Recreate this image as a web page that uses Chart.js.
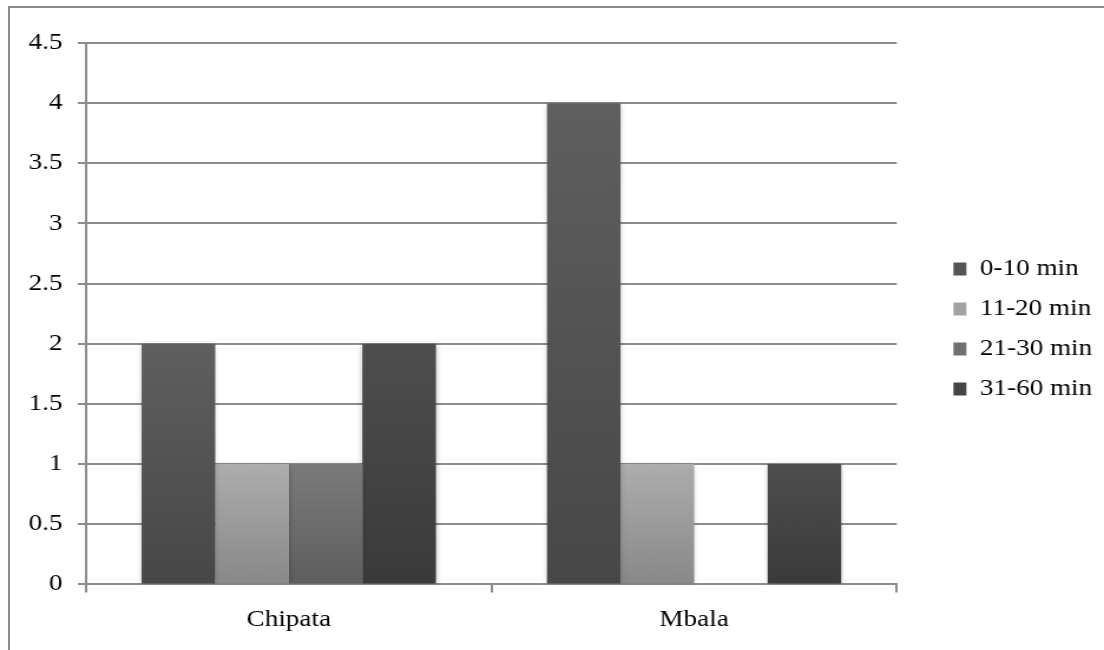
<!DOCTYPE html>
<html>
<head>
<meta charset="utf-8">
<script src="https://cdn.jsdelivr.net/npm/chart.js@4"></script>
<style>
  html, body { margin: 0; padding: 0; background: #fff; overflow: hidden; }
  #frame {
    position: absolute; left: 8px; top: 6px; width: 1200px; height: 700px;
    border-left: 2px solid #8c8c8c; border-top: 2px solid #8c8c8c;
  }
  #wrap {
    position: absolute; left: 0; top: 0; width: 936px; height: 650px;
    transform: scaleX(1.1795); transform-origin: 0 0;
  }
</style>
</head>
<body>
<div id="frame"></div>
<div id="wrap"><canvas id="c" width="936" height="650"></canvas></div>
<script>
// Travel time to the clinic, by town
const categories = ['Chipata', 'Mbala'];
const seriesNames = ['0-10 min', '11-20 min', '21-30 min', '31-60 min'];
const minutes0to10 = [2, 4];
const minutes11to20 = [1, 1];
const minutes21to30 = [1, 0];
const minutes31to60 = [2, 1];
const yTickLabels = ['0', '0.5', '1', '1.5', '2', '2.5', '3', '3.5', '4', '4.5'];

const FONT = { family: "'Liberation Serif', 'Times New Roman', serif", size: 23 };
const LINE = '#8c8c8c';

// vertical shading inside each bar, lighter at the top
function barFill(top, bottom) {
  return (ctx) => {
    const chart = ctx.chart;
    const y = chart.scales && chart.scales.y;
    if (!y || ctx.type !== 'data' || typeof ctx.raw !== 'number') return bottom;
    const yTop = y.getPixelForValue(ctx.raw);
    const yBase = y.getPixelForValue(0);
    if (!isFinite(yTop) || !isFinite(yBase) || yBase - yTop < 1) return bottom;
    const g = chart.ctx.createLinearGradient(0, yTop, 0, yBase);
    g.addColorStop(0, top);
    g.addColorStop(1, bottom);
    return g;
  };
}

const swatches = ['#555555', '#a2a2a2', '#707070', '#444444'];

const softShadow = {
  id: 'softShadow',
  beforeDatasetsDraw(chart) {
    const c = chart.ctx;
    c.save();
    c.shadowColor = 'rgba(0,0,0,0.28)';
    c.shadowBlur = 5;
    c.shadowOffsetX = 0;
    c.shadowOffsetY = 1;
  },
  afterDatasetsDraw(chart) {
    chart.ctx.restore();
  }
};

new Chart(document.getElementById('c'), {
  type: 'bar',
  data: {
    labels: categories,
    datasets: [
      { label: seriesNames[0], data: minutes0to10, backgroundColor: barFill('#5f5f5f', '#474747') },
      { label: seriesNames[1], data: minutes11to20, backgroundColor: barFill('#adadad', '#888888') },
      { label: seriesNames[2], data: minutes21to30, backgroundColor: barFill('#7b7b7b', '#5e5e5e') },
      { label: seriesNames[3], data: minutes31to60, backgroundColor: barFill('#4e4e4e', '#3a3a3a') }
    ]
  },
  options: {
    responsive: false,
    animation: false,
    devicePixelRatio: 1,
    layout: { padding: { top: 10, bottom: 2, left: 0, right: 0 } },
    datasets: { bar: { barPercentage: 1, categoryPercentage: 0.726, borderWidth: 0 } },
    scales: {
      x: {
        grid: { display: true, drawOnChartArea: false, drawTicks: true, tickLength: 8, offset: true, color: LINE, lineWidth: 2 },
        border: { display: true, color: LINE, width: 2 },
        ticks: { padding: 14, color: '#000', font: FONT }
      },
      y: {
        min: 0,
        max: 4.5,
        afterFit(scale) { scale.width = 73; },
        grid: { color: LINE, lineWidth: 2, tickLength: 7, drawTicks: true },
        border: { display: true, color: LINE, width: 2 },
        ticks: {
          stepSize: 0.5,
          padding: 13,
          color: '#000',
          font: FONT,
          callback: (v, i) => yTickLabels[i]
        }
      },
      topGap: {
        type: 'linear',
        position: 'top',
        display: true,
        grid: { display: false },
        border: { display: false },
        ticks: { display: false },
        afterFit(scale) { scale.height = 33; }
      },
      gap: {
        type: 'linear',
        position: 'right',
        display: true,
        grid: { display: false },
        border: { display: false },
        ticks: { display: false },
        afterFit(scale) { scale.width = 31; }
      }
    },
    plugins: {
      tooltip: { enabled: false },
      legend: {
        position: 'right',
        labels: {
          boxWidth: 11,
          boxHeight: 13,
          padding: 17,
          color: '#000',
          font: FONT,
          generateLabels(chart) {
            return chart.data.datasets.map((ds, i) => ({
              text: ds.label,
              fillStyle: swatches[i],
              strokeStyle: swatches[i],
              lineWidth: 0,
              hidden: false,
              datasetIndex: i
            }));
          }
        }
      }
    }
  },
  plugins: [softShadow]
});
</script>
</body>
</html>
